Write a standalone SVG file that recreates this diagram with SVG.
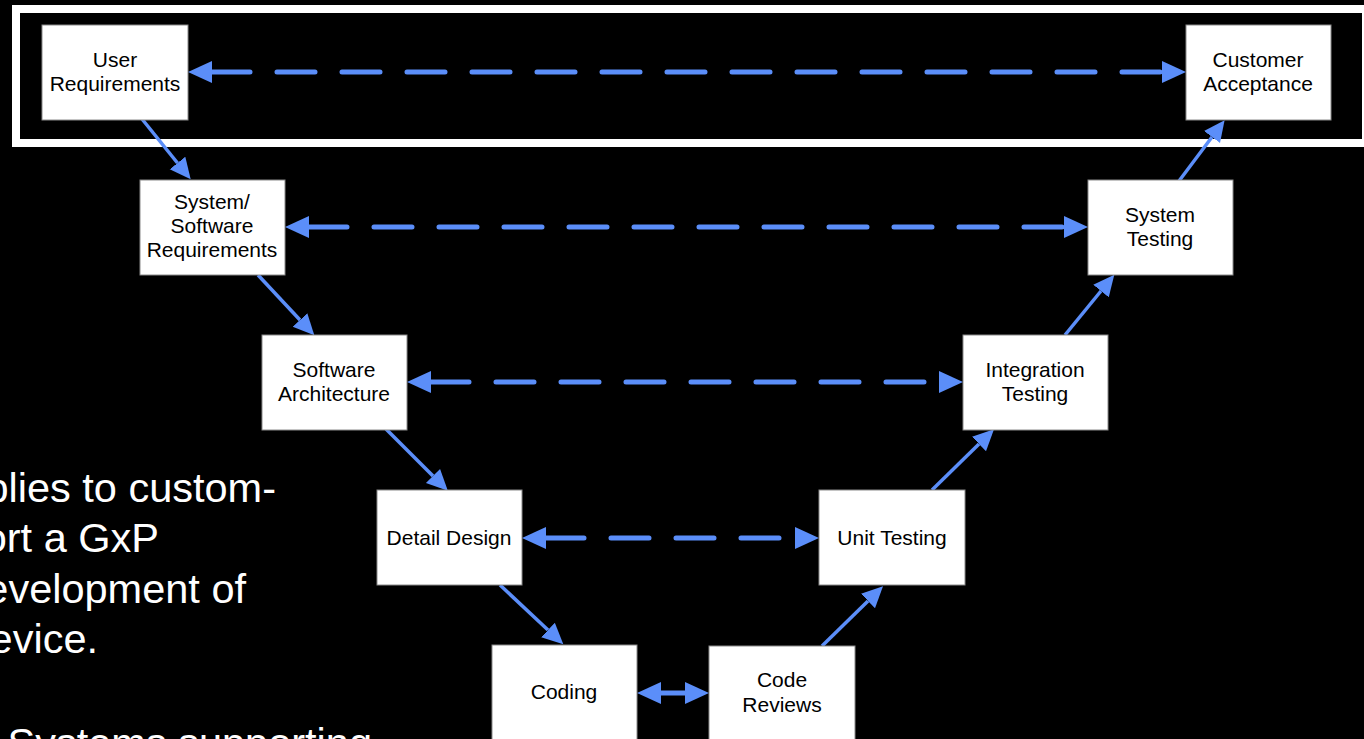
<svg xmlns="http://www.w3.org/2000/svg" width="1364" height="739" viewBox="0 0 1364 739">
<defs>
<style>
.box{fill:#fff;stroke:#8a8a8a;stroke-width:1}
.lbl{font-family:"Liberation Sans",Arial,sans-serif;font-size:21px;fill:#000;text-anchor:middle}
.side{font-family:"Liberation Sans",Arial,sans-serif;font-size:41.5px;fill:#fff;text-anchor:end}
.dash{stroke:#5b8ef9;stroke-width:5;stroke-linecap:round;stroke-dasharray:38 27;fill:none;marker-start:url(#bigA);marker-end:url(#bigA)}
.solid{stroke:#5b8ef9;stroke-width:3.5;fill:none;marker-end:url(#smA)}
</style>
<marker id="bigA" markerUnits="userSpaceOnUse" markerWidth="25" markerHeight="24" refX="0" refY="12" orient="auto-start-reverse" viewBox="0 0 25 24">
<path d="M0,1 L24,12 L0,23 z" fill="#5b8ef9"/>
</marker>
<marker id="smA" markerUnits="userSpaceOnUse" markerWidth="22" markerHeight="22" refX="0" refY="11" orient="auto" viewBox="0 0 22 22">
<path d="M0,1 L21,11 L0,21 z" fill="#5b8ef9"/>
</marker>
</defs>
<rect x="0" y="0" width="1364" height="739" fill="#000"/>
<rect x="16" y="9" width="1350" height="134" fill="none" stroke="#fff" stroke-width="8"/>

<g id="side-text">
<text class="side" x="276" y="502">plies to custom-</text>
<text class="side" x="159" y="552">ort a GxP</text>
<text class="side" x="246" y="603">evelopment of</text>
<text class="side" x="98" y="653">evice.</text>
<text class="side" x="372" y="757">Systems supporting</text>
</g>

<g id="connectors">
<line class="dash" x1="212" y1="72" x2="1162" y2="72"/>
<line class="dash" x1="309" y1="227" x2="1064" y2="227"/>
<line class="dash" x1="431" y1="382" x2="939" y2="382"/>
<line class="dash" x1="546" y1="538" x2="795" y2="538"/>
<line class="dash" x1="661" y1="693" x2="685" y2="693" style="stroke-dasharray:none"/>
<line class="solid" x1="142" y1="119" x2="177.5" y2="163"/>
<line class="solid" x1="258" y1="275" x2="300" y2="320"/>
<line class="solid" x1="386" y1="429" x2="433" y2="476"/>
<line class="solid" x1="500" y1="585" x2="548" y2="630"/>
<line class="solid" x1="822" y1="646" x2="868" y2="601"/>
<line class="solid" x1="932" y1="490" x2="979" y2="444"/>
<line class="solid" x1="1065" y1="335" x2="1101" y2="291"/>
<line class="solid" x1="1179" y1="181" x2="1212" y2="137"/>
</g>

<g id="user-requirements">
<rect class="box" x="42" y="25" width="146" height="95"/>
<text class="lbl" x="115" y="67">User</text>
<text class="lbl" x="115" y="91">Requirements</text>
</g>
<g id="customer-acceptance">
<rect class="box" x="1186" y="25" width="145" height="95"/>
<text class="lbl" x="1258" y="67">Customer</text>
<text class="lbl" x="1258" y="91">Acceptance</text>
</g>
<g id="system-software-requirements">
<rect class="box" x="140" y="180" width="145" height="95"/>
<text class="lbl" x="212" y="209">System/</text>
<text class="lbl" x="212" y="233">Software</text>
<text class="lbl" x="212" y="257">Requirements</text>
</g>
<g id="system-testing">
<rect class="box" x="1088" y="180" width="145" height="95"/>
<text class="lbl" x="1160" y="222">System</text>
<text class="lbl" x="1160" y="246">Testing</text>
</g>
<g id="software-architecture">
<rect class="box" x="262" y="335" width="145" height="95"/>
<text class="lbl" x="334" y="377">Software</text>
<text class="lbl" x="334" y="401">Architecture</text>
</g>
<g id="integration-testing">
<rect class="box" x="963" y="335" width="145" height="95"/>
<text class="lbl" x="1035" y="377">Integration</text>
<text class="lbl" x="1035" y="401">Testing</text>
</g>
<g id="detail-design">
<rect class="box" x="377" y="490" width="145" height="95"/>
<text class="lbl" x="449" y="545">Detail Design</text>
</g>
<g id="unit-testing">
<rect class="box" x="819" y="490" width="146" height="95"/>
<text class="lbl" x="892" y="545">Unit Testing</text>
</g>
<g id="coding">
<rect class="box" x="492" y="645" width="145" height="100"/>
<text class="lbl" x="564" y="699">Coding</text>
</g>
<g id="code-reviews">
<rect class="box" x="709" y="646" width="146" height="100"/>
<text class="lbl" x="782" y="687">Code</text>
<text class="lbl" x="782" y="712">Reviews</text>
</g>
</svg>
